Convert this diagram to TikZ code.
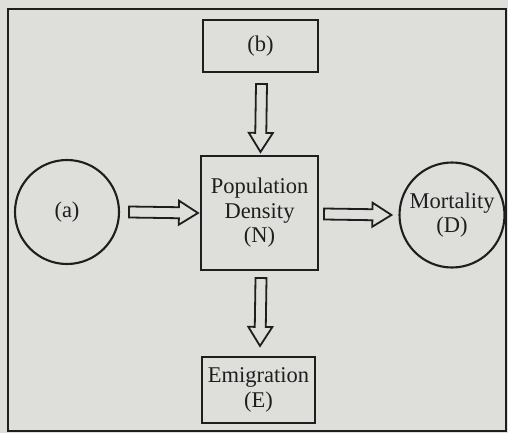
\documentclass[tikz,border=0pt]{standalone}
\usepackage{fontspec}
\setmainfont{Liberation Serif}
\usetikzlibrary{calc}
\definecolor{paper}{RGB}{222,222,219}
\definecolor{ink}{RGB}{30,30,30}
\tikzset{
  box/.style={draw=ink, line width=2.1pt, rectangle, inner sep=0pt, align=center, text=ink,
    font=\fontsize{22.5}{24.5}\selectfont},
  circ/.style={draw=ink, line width=2.1pt, circle, inner sep=0pt, align=center, text=ink,
    font=\fontsize{22.5}{24.5}\selectfont},
  arrowline/.style={draw=ink, line width=1.8pt, line join=miter},
  frame/.style={draw=ink, line width=1.5pt}
}
\newcommand\blkarrow[2]{%
  \path coordinate (hb) at ($(#2)!19pt!(#1)$);
  \draw[arrowline] ($(#1)!5.5pt!90:(#2)$) -- ($(hb)!5.5pt!-90:(#1)$) -- ($(hb)!12pt!-90:(#1)$)
    -- (#2) -- ($(hb)!12pt!90:(#1)$) -- ($(hb)!5.5pt!90:(#1)$) -- ($(#1)!5.5pt!-90:(#2)$) -- cycle;
}
\begin{document}
\begin{tikzpicture}[x=1pt,y=-1pt]
\fill[paper] (0,0) rectangle (508,433);
\useasboundingbox (0,0) rectangle (508,433);
\draw[frame] (8,9) rectangle (506,431);
\node[box, minimum width=115pt, minimum height=52pt] (b) at (260.5,46) {(b)};
\node[box, minimum width=117pt, minimum height=114pt] (N) at (259.5,213) {Population\\Density\\(N)};
\node[box, minimum width=113pt, minimum height=66pt] (E) at (258.5,390) {Emigration\\(E)};
\node[circ, minimum size=104pt] (a) at (67,212) {(a)};
\node[circ, minimum size=105pt] (D) at (452,215) {Mortality\\(D)};
% arrow endpoints
\coordinate (a1) at ($(a.east)+(9,0)$);
\coordinate (a2) at ($(N.west)+(-2,0)$);
\coordinate (d1) at ($(N.east)+(5,1)$);
\coordinate (d2) at ($(D.west)+(-7,0)$);
\coordinate (b1) at ($(b.south)+(1,11)$);
\coordinate (b2) at ($(N.north)+(1,-3)$);
\coordinate (e1) at ($(N.south)+(1.5,7)$);
\coordinate (e2) at ($(E.north)+(1.5,-10)$);
\blkarrow{a1}{a2}
\blkarrow{d1}{d2}
\blkarrow{b1}{b2}
\blkarrow{e1}{e2}
\end{tikzpicture}
\end{document}
